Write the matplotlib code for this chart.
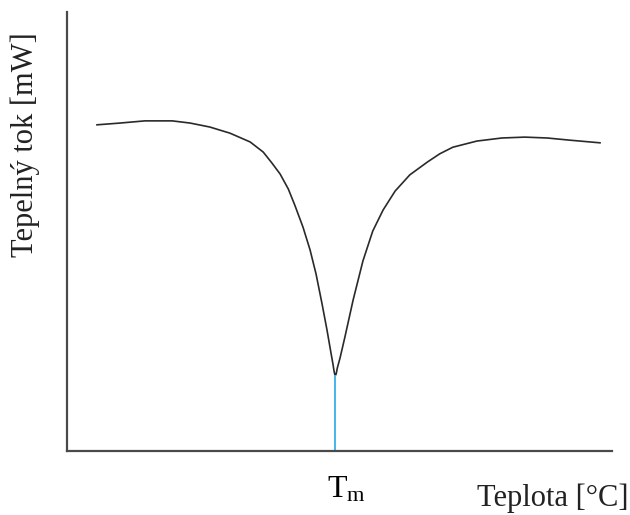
import matplotlib.pyplot as plt

plt.rcParams['font.family'] = ['Liberation Serif', 'DejaVu Serif']
plt.rcParams['mathtext.fontset'] = 'custom'
plt.rcParams['mathtext.rm'] = 'Liberation Serif'

# DSC melting curve (arbitrary units)
teplota = [5.5, 9.7, 14.3, 19.3, 22.6, 26.2, 29.9, 33.6, 36.0, 37.6, 39.1, 40.6,
           41.8, 43.3, 44.6, 45.7, 46.8, 47.7, 48.4, 48.8, 49.0, 49.2, 49.4, 49.6,
           50.1, 51.0, 52.5, 54.3, 56.1, 58.0, 60.2, 62.9, 66.1, 68.4, 70.8, 75.2,
           79.8, 84.0, 88.1, 92.3, 97.8]
tok = [74.3, 74.7, 75.2, 75.2, 74.7, 73.8, 72.4, 70.4, 68.1, 65.6, 63.1, 59.7,
       56.0, 51.0, 45.8, 40.3, 33.5, 27.6, 22.6, 19.8, 18.2, 17.1, 17.6, 18.9,
       21.2, 26.0, 34.4, 43.3, 50.1, 54.9, 59.2, 62.9, 65.8, 67.7, 69.2, 70.6,
       71.3, 71.5, 71.3, 70.8, 70.2]
t_m = 49.2
tok_m = 17.1

fig = plt.figure(figsize=(6.3, 5.15), dpi=100)
ax = fig.add_axes([67/630, 64/515, 545/630, 439/515])

ax.plot(teplota, tok, color='#2a2a2a', linewidth=1.2, solid_joinstyle='round')
ax.plot([t_m, t_m], [0, tok_m], color='#45b4ea', linewidth=1.4)

ax.set_xlim(0, 100)
ax.set_ylim(0, 100)
ax.set_xticks([])
ax.set_yticks([])
for side in ['top', 'right']:
    ax.spines[side].set_visible(False)
for side in ['left', 'bottom']:
    ax.spines[side].set_color('#4a4a4a')
    ax.spines[side].set_linewidth(1.6)

ax.text(t_m + 2.0, -5.5, r'$\mathrm{T_m}$', fontsize=23, ha='center', va='top')
fig.text(0.997, 0.004, 'Teplota [°C]', fontsize=22, ha='right', va='bottom', color='#222222')
fig.text(0.04, 0.72, 'Tepelný tok [mW]', fontsize=22, rotation=90, ha='center', va='center',
         color='#222222')

fig.savefig('out.png', dpi=100)
